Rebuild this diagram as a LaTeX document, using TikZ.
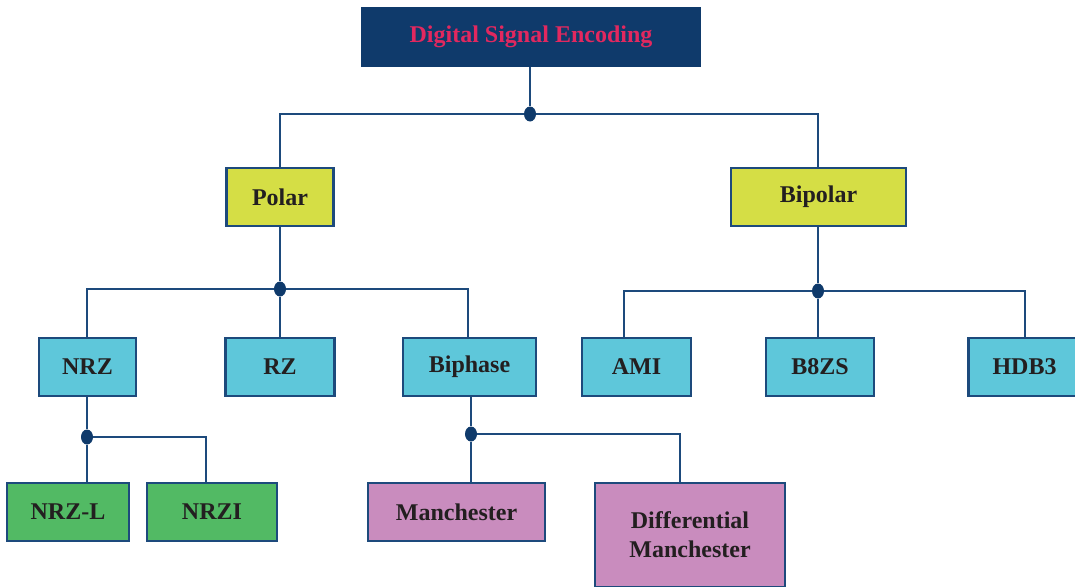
\documentclass[tikz,border=0pt]{standalone}
\usepackage{fontspec}
\setmainfont{Liberation Serif}
\usetikzlibrary{shapes.geometric}
\definecolor{navy}{HTML}{0F3A6B}
\definecolor{edge}{HTML}{1D4A7C}
\definecolor{titletext}{HTML}{E2285F}
\definecolor{ink}{HTML}{231F20}
\definecolor{ygreen}{HTML}{D5DE45}
\definecolor{cyanbox}{HTML}{5EC7DA}
\definecolor{greenbox}{HTML}{52BA64}
\definecolor{pinkbox}{HTML}{C98CBE}
\begin{document}
\begin{tikzpicture}[x=1pt,y=-1pt,
  box/.style={draw=edge,line width=2.2pt,rectangle,minimum height=58pt,inner sep=0pt,
    font=\fontsize{24}{28}\selectfont\bfseries,text=ink,align=center},
  lvlone/.style={box,fill=ygreen},
  lvltwo/.style={box,fill=cyanbox},
  lvlthreeg/.style={box,fill=greenbox},
  lvlthreep/.style={box,fill=pinkbox},
  jdot/.style={ellipse,fill=navy,inner sep=0pt,minimum width=12pt,minimum height=15pt},
  conn/.style={draw=edge,line width=2pt}]
\useasboundingbox (0,0) rectangle (1075,586);
% nodes
\node[rectangle,fill=navy,minimum width=340pt,minimum height=60pt,inner sep=0pt,
  font=\fontsize{24}{28}\selectfont\bfseries,text=titletext] (title) at (531,37) {Digital Signal Encoding};
\node[lvlone,minimum width=107pt] (polar) at (280,197) {Polar};
\node[lvlone,minimum width=175pt] (bipolar) at (818.5,197) {Bipolar};
\node[lvltwo,minimum width=97pt] (nrz) at (87.5,367) {NRZ};
\node[lvltwo,minimum width=109pt] (rz) at (280,367) {RZ};
\node[lvltwo,minimum width=133pt] (biphase) at (469.5,367) {Biphase};
\node[lvltwo,minimum width=109pt] (ami) at (636.5,367) {AMI};
\node[lvltwo,minimum width=108pt] (b8zs) at (820,367) {B8ZS};
\node[lvltwo,minimum width=112pt] (hdb3) at (1024.5,367) {HDB3};
\node[lvlthreeg,minimum width=122pt] (nrzl) at (68,512) {NRZ-L};
\node[lvlthreeg,minimum width=130pt] (nrzi) at (212,512) {NRZI};
\node[lvlthreep,minimum width=177pt] (manch) at (456.5,512) {Manchester};
\node[lvlthreep,minimum width=190pt,minimum height=104pt] (dmanch) at (690,535) {Differential\\[1pt]Manchester};
% junction dots
\node[jdot] (d1) at (530,114) {};
\node[jdot] (d2) at (280,289) {};
\node[jdot] (d3) at (818,291) {};
\node[jdot] (d4) at (87,437) {};
\node[jdot] (d5) at (471,434) {};
% connectors
\draw[conn] (title.south -| d1) -- (d1);
\draw[conn] (d1) -| (polar.north);
\draw[conn] (d1) -| (bipolar.north -| d3);
\draw[conn] (polar.south) -- (d2);
\draw[conn] (d2) -| (nrz.north -| d4);
\draw[conn] (d2) -- (rz.north);
\draw[conn] (d2) -| ([xshift=-1.5pt]biphase.north);
\draw[conn] (bipolar.south -| d3) -- (d3);
\draw[conn] (d3) -| ([xshift=43pt]ami.north west);
\draw[conn] (d3) -- (b8zs.north -| d3);
\draw[conn] (d3) -| (hdb3.north);
\draw[conn] (nrz.south -| d4) -- (d4);
\draw[conn] (d4) -- (nrzl.north -| d4);
\draw[conn] (d4) -| ([xshift=60pt]nrzi.north west);
\draw[conn] (biphase.south -| d5) -- (d5);
\draw[conn] (d5) -- (manch.north -| d5);
\draw[conn] (d5) -| ([xshift=86pt]dmanch.north west);
\end{tikzpicture}
\end{document}
